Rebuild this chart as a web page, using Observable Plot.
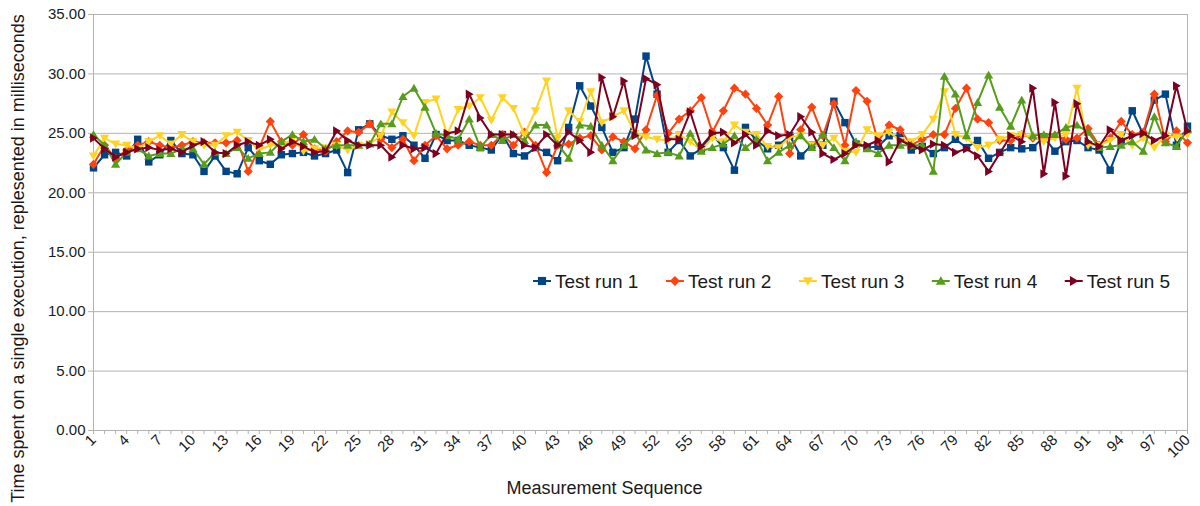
<!DOCTYPE html>
<html>
<head>
<meta charset="utf-8">
<script src="https://cdn.jsdelivr.net/npm/d3@7"></script>
<script src="https://cdn.jsdelivr.net/npm/@observablehq/plot@0.6"></script>
<style>
  html, body { margin: 0; padding: 0; background: #fff; }
  #chart { width: 1200px; height: 506px; }
</style>
</head>
<body>
<div id="chart"></div>
<script>
// ---- Data ----
const seriesNames = ["Test run 1", "Test run 2", "Test run 3", "Test run 4", "Test run 5"];
const seriesColors = ["#004586", "#ff420e", "#ffd320", "#579d1c", "#7e0021"];

const run1 = [22.1,23.2,23.4,23.1,24.5,22.6,23.2,24.4,23.3,23.2,21.8,23.1,21.8,21.6,23.8,22.7,22.4,23.2,23.3,23.4,
23.1,23.3,23.6,21.7,25.3,25.8,24.8,24.5,24.8,24.0,22.9,24.9,24.4,24.4,24.0,23.8,23.6,24.9,23.3,23.1,
23.8,23.4,22.7,25.5,29.0,27.3,25.5,23.4,23.8,26.2,31.5,28.3,23.4,24.4,23.1,23.7,24.9,23.8,21.9,25.5,
24.4,23.7,24.0,24.8,23.1,24.0,24.0,27.7,25.9,24.1,23.8,23.9,24.8,24.8,23.6,23.9,23.3,23.8,24.5,23.8,
24.4,22.9,23.4,23.8,23.7,23.8,24.7,23.5,24.3,24.4,23.8,23.6,21.9,24.3,26.9,24.9,27.8,28.3,24.0,25.6];

const run2 = [22.4,24.0,22.9,23.6,24.0,24.3,24.0,23.8,24.0,24.3,24.2,24.2,24.2,24.4,21.8,23.8,26.0,24.3,24.0,24.9,
23.7,23.5,24.3,25.2,25.1,25.8,24.5,23.8,24.5,22.7,24.0,24.8,23.7,24.0,24.3,24.0,24.0,24.9,24.0,25.1,
24.0,21.7,24.0,24.1,24.6,24.8,23.6,24.7,24.3,23.7,25.3,28.2,25.0,26.2,26.9,28.0,25.1,26.9,28.8,28.3,
27.1,25.7,28.1,23.3,25.3,27.2,24.8,27.5,24.0,28.6,27.7,24.3,25.7,25.3,24.0,24.5,24.9,24.9,27.1,28.8,
26.2,25.9,24.4,24.4,24.9,24.6,24.5,24.8,24.5,24.6,25.4,24.0,24.6,26.0,24.9,25.1,28.3,24.3,25.2,24.2];

const run3 = [23.1,24.6,24.1,24.0,23.7,24.3,24.8,24.1,24.9,24.3,24.0,24.0,24.8,25.1,24.4,23.6,24.0,24.0,24.5,23.5,
23.7,23.8,24.0,23.6,24.0,24.1,24.8,26.8,25.9,24.8,27.6,27.9,24.9,27.0,27.3,28.0,26.1,28.0,27.1,24.9,
26.9,29.4,24.6,26.9,26.0,28.5,25.9,26.4,26.9,25.0,24.7,24.5,24.4,24.9,24.3,23.6,24.6,24.3,25.7,25.1,
24.9,23.9,23.8,24.7,24.8,24.0,24.0,24.6,23.5,23.4,25.3,24.8,25.1,24.4,24.3,24.9,26.2,28.5,24.9,24.6,
23.8,24.0,24.5,24.8,24.9,24.7,24.3,24.6,24.9,28.8,24.0,24.0,24.4,24.9,24.0,24.6,23.8,24.8,24.7,24.9];

const run4 = [24.9,24.0,22.4,23.4,23.7,23.1,23.3,23.3,23.7,23.7,22.4,23.4,23.3,23.8,22.9,23.3,23.4,24.3,24.9,24.3,
24.5,23.7,24.0,24.0,24.0,24.1,25.8,25.8,28.1,28.8,27.2,25.0,24.8,24.5,26.2,23.8,24.9,24.4,24.9,24.4,
25.7,25.7,24.1,22.9,25.7,25.6,24.0,22.7,24.0,25.0,23.6,23.3,23.4,23.1,25.0,23.5,23.8,24.1,24.8,23.8,
24.5,22.7,23.4,24.0,24.8,23.8,24.9,23.8,22.7,24.3,23.7,23.3,24.0,24.0,24.0,24.0,21.8,29.8,28.3,24.8,
27.6,29.9,27.2,25.6,27.8,24.8,24.9,24.9,25.5,25.7,25.1,23.8,23.9,24.0,24.3,23.5,26.4,24.2,23.9,25.3];

const run5 = [24.6,23.7,23.0,23.4,23.7,23.8,23.6,23.7,23.4,24.0,24.3,23.4,23.3,24.0,24.3,24.0,24.5,23.7,24.3,23.9,
23.4,23.5,25.2,24.4,24.0,24.0,24.0,23.0,24.0,23.7,23.8,23.3,25.0,25.2,28.3,26.3,24.9,24.9,24.9,24.0,
23.8,24.9,24.0,25.1,24.4,23.4,29.7,26.4,29.4,24.8,29.6,29.1,24.5,24.5,26.8,23.9,25.0,25.1,24.2,24.9,
24.0,25.2,24.8,24.9,26.4,25.1,23.3,22.8,23.3,24.0,24.0,24.4,22.6,24.4,24.0,23.6,24.1,24.0,23.4,23.7,
23.1,21.8,23.3,24.8,24.3,28.8,21.6,27.6,21.4,27.5,24.3,23.9,25.3,24.4,24.8,25.0,24.4,24.8,29.0,25.2];

const yTicks = [0, 5, 10, 15, 20, 25, 30, 35];
const xLabelTicks = d3.range(1, 101, 3);   // 1, 4, 7, ... 100
const xMinorTicks = d3.range(1, 101);
const xTitle = "Measurement Sequence";
const yTitle = "Time spent on a single execution, replesented in milliseconds";

// ---- Symbols (LibreOffice style markers) ----
const symTriDown = { draw(ctx, size) { const h = Math.sqrt(size) * 0.62;
  ctx.moveTo(-h, -h * 0.75); ctx.lineTo(h, -h * 0.75); ctx.lineTo(0, h * 0.95); ctx.closePath(); } };
const symTriUp = { draw(ctx, size) { const h = Math.sqrt(size) * 0.62;
  ctx.moveTo(-h, h * 0.75); ctx.lineTo(h, h * 0.75); ctx.lineTo(0, -h * 0.95); ctx.closePath(); } };
const symTriRight = { draw(ctx, size) { const h = Math.sqrt(size) * 0.62;
  ctx.moveTo(-h * 0.75, -h); ctx.lineTo(h * 0.95, 0); ctx.lineTo(-h * 0.75, h); ctx.closePath(); } };
const symSquare = { draw(ctx, size) { const h = Math.sqrt(size) * 0.5;
  ctx.rect(-h, -h, 2 * h, 2 * h); } };
const symDiamond = { draw(ctx, size) { const h = Math.sqrt(size) * 0.62;
  ctx.moveTo(0, -h); ctx.lineTo(h, 0); ctx.lineTo(0, h); ctx.lineTo(-h, 0); ctx.closePath(); } };
const seriesSymbols = [symSquare, symDiamond, symTriDown, symTriUp, symTriRight];

const runs = [run1, run2, run3, run4, run5];
const seriesData = runs.map((vals, k) => vals.map((v, i) => ({ seq: i + 1, value: v, series: seriesNames[k] })));

const FONT = "'Liberation Sans', Arial, sans-serif";
const AXIS_GREY = "#b3b3b3";
const TEXT = "#1a1a1a";

const seriesMarks = [];
seriesData.forEach((data, k) => {
  seriesMarks.push(Plot.line(data, { x: "seq", y: "value", stroke: seriesColors[k], strokeWidth: 2 }));
  seriesMarks.push(Plot.dot(data, { x: "seq", y: "value", fill: seriesColors[k], stroke: "none", r: 4.2, symbol: seriesSymbols[k] }));
});

const chart = Plot.plot({
  width: 1200,
  height: 506,
  marginLeft: 93,
  marginRight: 13,
  marginTop: 14,
  marginBottom: 76,
  x: { domain: [1, 100] },
  y: { domain: [0, 35] },
  style: { fontFamily: FONT, fontSize: "15px", color: TEXT, background: "#fff" },
  marks: [
    Plot.gridY(yTicks, { stroke: AXIS_GREY, strokeOpacity: 1 }),
    Plot.ruleX([1, 100], { stroke: AXIS_GREY }),
    Plot.ruleY([0], { stroke: AXIS_GREY }),
    Plot.axisY(yTicks, { tickFormat: d => d.toFixed(2), tickSize: 5, tickPadding: 3, label: null, stroke: AXIS_GREY, fontSize: 15 }),
    Plot.axisX(xMinorTicks, { tickFormat: () => "", tickSize: 4, label: null, stroke: AXIS_GREY }),
    Plot.axisX(xLabelTicks, { tickSize: 0, tickRotate: -45, textAnchor: "end", label: null, fontSize: 15, tickPadding: 7 }),
    ...seriesMarks,
    Plot.text([xTitle], { frameAnchor: "bottom", textAnchor: "middle", dx: -36, dy: 63, fontSize: 18, fill: TEXT }),
    Plot.text([yTitle], { frameAnchor: "left", textAnchor: "middle", rotate: -90, dx: -75, dy: 36, fontSize: 18, fill: TEXT })
  ]
});

document.getElementById("chart").appendChild(chart);

// ---- Legend drawn inside the plot area (LibreOffice style) ----
const svg = d3.select(chart);
const legend = svg.append("g").attr("font-family", FONT).attr("font-size", 19).attr("text-anchor", "start");
let cursor = 533;
const legendY = 281;
seriesNames.forEach((name, k) => {
  const g = legend.append("g");
  g.append("line").attr("x1", cursor).attr("x2", cursor + 18).attr("y1", legendY).attr("y2", legendY)
    .attr("stroke", seriesColors[k]).attr("stroke-width", 2);
  const path = d3.path();
  seriesSymbols[k].draw(path, Math.PI * 4.6 * 4.6);
  g.append("path").attr("d", path.toString()).attr("transform", `translate(${cursor + 9},${legendY})`)
    .attr("fill", seriesColors[k]);
  const t = g.append("text").attr("x", cursor + 22).attr("y", legendY).attr("dy", "0.36em")
    .attr("text-anchor", "start").attr("fill", TEXT).text(name);
  const w = t.node().getComputedTextLength();
  cursor += 22 + w + 27.5;
});
</script>
</body>
</html>
